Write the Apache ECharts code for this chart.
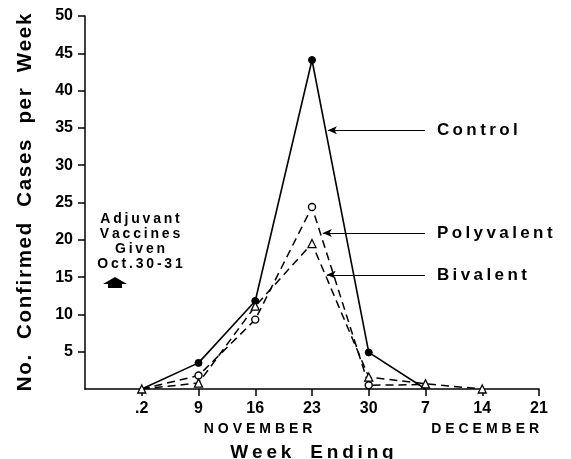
<!DOCTYPE html>
<html>
<head>
<meta charset="utf-8">
<script src="https://cdn.jsdelivr.net/npm/echarts@6/dist/echarts.min.js"></script>
<style>
html,body{margin:0;padding:0;background:#fff;}
#chart{width:571px;height:459px;}
</style>
</head>
<body>
<div id="chart"></div>
<script>
// ---- data ----
var xLabels = ['.2', '9', '16', '23', '30', '7', '14', '21'];
var control    = [0, 3.5, 11.8, 44.1, 4.9, 0];
var polyvalent = [0, 1.8, 9.3, 24.4, 0.5, 0.6];
var bivalent   = [0, 0.8, 11.1, 19.5, 1.6, 0.7, 0];
var yTicks = [5, 10, 15, 20, 25, 30, 35, 40, 45, 50];
var monthLabels = ['NOVEMBER', 'DECEMBER'];
var noteLines = ['Adjuvant', 'Vaccines', 'Given', 'Oct.30-31'];

var FONT = '"Liberation Sans", Arial, sans-serif';
function sp(s, ch) { return s.split('').join(ch || '\u2009'); }

function pts(arr, hideIdx) {
  return arr.map(function (v, i) {
    var d = { value: [i, v] };
    if (hideIdx.indexOf(i) >= 0) d.symbol = 'none';
    return d;
  });
}

var chart = echarts.init(document.getElementById('chart'), null, { renderer: 'canvas' });

function arrowLine(x0, x1, y) {
  return {
    silent: true,
    symbol: ['none', 'arrow'],
    symbolSize: [6, 9],
    label: { show: false },
    lineStyle: { type: 'solid', color: '#000', width: 1.2 },
    data: [[{ coord: [x0, y] }, { coord: [x1, y] }]]
  };
}

var option = {
  animation: false,
  backgroundColor: '#fff',
  grid: { left: 85, right: 32, top: 16, bottom: 70, containLabel: false, outerBoundsMode: 'none' },
  xAxis: {
    type: 'value', min: -1, max: 7, interval: 1,
    axisLine: { onZero: false, lineStyle: { color: '#000', width: 1.5 } },
    axisTick: { show: true, inside: false, length: 7, lineStyle: { color: '#000', width: 1.5 }, customValues: [0,1,2,3,4,5,6,7] },
    splitLine: { show: false },
    axisLabel: {
      customValues: [0,1,2,3,4,5,6,7],
      formatter: function (v) { return v >= 0 ? xLabels[v] : ''; },
      color: '#000', fontFamily: FONT, fontWeight: 'bold', fontSize: 16, margin: 12
    },
    name: sp('Week', '\u2009') + '\u2002\u2002' + sp('Ending', '\u2009'),
    nameLocation: 'middle', nameGap: 54,
    nameTextStyle: { color: '#000', fontFamily: FONT, fontWeight: 'bold', fontSize: 19 }
  },
  yAxis: {
    type: 'value', min: 0, max: 50, interval: 5,
    axisLine: { show: true, onZero: false, lineStyle: { color: '#000', width: 1.5 } },
    axisTick: { show: true, length: 7, lineStyle: { color: '#000', width: 1.5 }, customValues: yTicks },
    splitLine: { show: false },
    axisLabel: {
      customValues: yTicks,
      color: '#000', fontFamily: FONT, fontWeight: 'bold', fontSize: 16, margin: 12
    },
    name: ['No.', 'Confirmed', 'Cases', 'per', 'Week'].map(function (w) { return sp(w, '\u200A'); }).join('\u2002 '),
    nameLocation: 'middle', nameGap: 49, nameRotate: 90,
    nameTextStyle: { color: '#000', fontFamily: FONT, fontWeight: 'bold', fontSize: 20.5 }
  },
  series: [
    {
      name: 'Control', type: 'line', data: pts(control, [0, 5]),
      symbol: 'circle', symbolSize: 7,
      itemStyle: { color: '#000', borderColor: '#000' },
      lineStyle: { color: '#000', width: 1.6, type: 'solid' },
      markLine: arrowLine(4.99, 3.28, 34.7),
      z: 3
    },
    {
      name: 'Polyvalent', type: 'line', data: pts(polyvalent, [0, 5]),
      symbol: 'circle', symbolSize: 7,
      itemStyle: { color: '#fff', borderColor: '#000', borderWidth: 1.4 },
      lineStyle: { color: '#000', width: 1.5, type: [8, 5] },
      markLine: arrowLine(4.99, 3.19, 20.9),
      z: 2
    },
    {
      name: 'Bivalent', type: 'line', data: pts(bivalent, []),
      symbol: 'triangle', symbolSize: 8,
      itemStyle: { color: '#fff', borderColor: '#000', borderWidth: 1.3 },
      lineStyle: { color: '#000', width: 1.5, type: [8, 5] },
      markLine: arrowLine(4.99, 3.26, 15.3),
      z: 4
    }
  ]
};
chart.setOption(option);

// annotations positioned from the axes
function px(x, y) { return chart.convertToPixel({ gridIndex: 0 }, [x, y]); }
var graphics = [];
var textStyle = function (t, x, y, size, align) {
  return {
    type: 'text', x: x, y: y,
    style: { text: t, fill: '#000', font: 'bold ' + size + 'px ' + FONT, textAlign: align || 'left', textVerticalAlign: 'middle' },
    silent: true
  };
};
// series labels
var ctl = px(5.06, 34.7), pol = px(5.06, 20.9), biv = px(5.06, 15.3);
graphics.push(textStyle(sp('Control'), ctl[0] + 8, ctl[1], 17));
graphics.push(textStyle(sp('Polyvalent'), pol[0] + 8, pol[1], 17));
graphics.push(textStyle(sp('Bivalent'), biv[0] + 8, biv[1], 17));
// month labels
var nov = px(2.05, 0), dec = px(6.05, 0);
graphics.push(textStyle(sp(monthLabels[0], '\u2009\u200A'), nov[0], nov[1] + 40, 14, 'center'));
graphics.push(textStyle(sp(monthLabels[1], '\u2009\u200A'), dec[0], dec[1] + 40, 14, 'center'));
// note block
var nx = 140, ny = 219;
noteLines.forEach(function (l, i) {
  graphics.push(textStyle(sp(l), nx, ny + i * 15, 14, 'center'));
});
graphics.push({
  type: 'polygon', silent: true,
  shape: { points: [[115, 277], [127, 284], [122, 284], [122, 288], [108, 288], [108, 284], [103, 284]] },
  style: { fill: '#000' }
});
chart.setOption({ graphic: graphics });
</script>
</body>
</html>
